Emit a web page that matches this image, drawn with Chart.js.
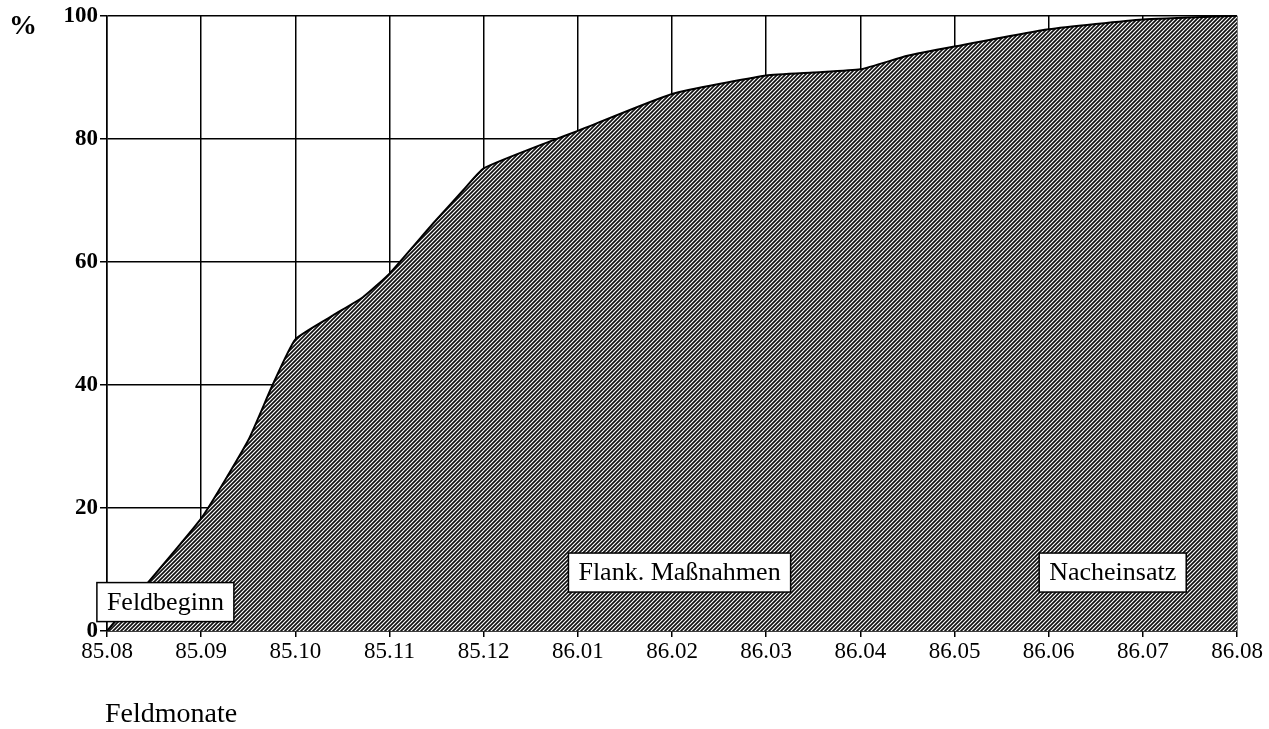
<!DOCTYPE html>
<html>
<head>
<meta charset="utf-8">
<script src="https://cdn.jsdelivr.net/npm/chart.js@4/dist/chart.umd.min.js"></script>
<style>
  html, body { margin: 0; padding: 0; background: #fff; }
  #wrap { width: 1269px; height: 729px; }
</style>
</head>
<body>
<div id="wrap"><canvas id="chart" width="1269" height="729"></canvas></div>
<script>
// month labels on the x axis (index 0..12)
const months = ['85.08', '85.09', '85.10', '85.11', '85.12', '86.01', '86.02',
                '86.03', '86.04', '86.05', '86.06', '86.07', '86.08'];
// position along the month axis and cumulative percent
const monthPos = [0, 1, 1.5, 1.75, 2, 2.4, 2.72, 3, 3.46, 3.78, 4, 4.74, 5, 6, 7, 7.5, 8, 8.5, 9, 10, 11, 12];
const percent  = [0, 18.3, 31, 39.7, 47.4, 51.3, 54.3, 58.1, 66.2, 71.6, 75.2, 79.8, 81.3, 87.3, 90.3, 90.8, 91.3, 93.5, 95.0, 97.8, 99.4, 100];
const yTicks = [0, 20, 40, 60, 80, 100];
// phase labels shown in boxes
const phaseLabels = ['Feldbeginn', 'Flank. Maßnahmen', 'Nacheinsatz'];

const points = monthPos.map((m, i) => ({ x: m, y: percent[i] }));

function makeHatch() {
  const c = document.createElement('canvas');
  c.width = 4; c.height = 4;
  const g = c.getContext('2d');
  g.fillStyle = '#fff';
  g.fillRect(0, 0, 4, 4);
  g.strokeStyle = '#111';
  g.lineWidth = 1.7;
  g.beginPath();
  g.moveTo(-1, 5); g.lineTo(5, -1);
  g.moveTo(-1, 1); g.lineTo(1, -1);
  g.moveTo(3, 5); g.lineTo(5, 3);
  g.stroke();
  return g.createPattern(c, 'repeat');
}

const ctx = document.getElementById('chart').getContext('2d');
const hatch = makeHatch();

const boxPlugin = {
  id: 'boxes',
  afterDatasetsDraw(chart) {
    const c = chart.ctx;
    const xs = chart.scales.x, ys = chart.scales.y;
    const anchors = [[0.62, 4.7], [6.08, 9.5], [10.68, 9.5]];
    c.save();
    c.font = '26px "Liberation Serif", "Times New Roman", serif';
    c.textAlign = 'center';
    c.textBaseline = 'middle';
    phaseLabels.forEach((t, i) => {
      const cx = xs.getPixelForValue(anchors[i][0]);
      const cy = ys.getPixelForValue(anchors[i][1]);
      const w = c.measureText(t).width + 20;
      const h = 39;
      c.fillStyle = '#fff';
      c.fillRect(cx - w / 2, cy - h / 2, w, h);
      c.strokeStyle = '#000';
      c.lineWidth = 1.5;
      c.strokeRect(cx - w / 2, cy - h / 2, w, h);
      c.fillStyle = '#000';
      c.fillText(t, cx, cy + 1);
    });
    // axis captions
    c.textAlign = 'left';
    c.textBaseline = 'alphabetic';
    c.font = 'bold 28px "Liberation Serif", serif';
    c.fillText('%', 9, 34);
    c.font = '28px "Liberation Serif", serif';
    c.fillText('Feldmonate', 105, 722);
    c.restore();
  }
};

new Chart(ctx, {
  type: 'line',
  data: {
    datasets: [{
      data: points,
      borderColor: '#000',
      borderWidth: 2,
      backgroundColor: hatch,
      fill: 'origin',
      pointRadius: 0,
      tension: 0.15
    }]
  },
  options: {
    responsive: false,
    animation: false,
    layout: { padding: { left: 0, top: 15, right: 32, bottom: 0 } },
    plugins: { legend: { display: false }, tooltip: { enabled: false } },
    scales: {
      x: {
        type: 'linear',
        min: 0, max: 12,
        afterFit: s => { s.height = 98; },
        grid: { color: '#000', lineWidth: 1.5, tickLength: 6, tickColor: '#000' },
        border: { color: '#000', width: 1.5 },
        ticks: {
          stepSize: 1,
          color: '#000',
          padding: 1,
          maxRotation: 0,
          font: { family: '"Liberation Serif", serif', size: 23 },
          callback: v => months[v]
        }
      },
      y: {
        min: 0, max: 100,
        afterFit: s => { s.width = 107; },
        afterBuildTicks: s => { s.ticks = yTicks.map(v => ({ value: v })); },
        grid: { color: '#000', lineWidth: 1.5, tickLength: 7, tickColor: '#000' },
        border: { color: '#000', width: 1.5 },
        ticks: {
          color: '#000',
          padding: 2,
          font: { family: '"Liberation Serif", serif', size: 23, weight: 'bold' }
        }
      }
    }
  },
  plugins: [boxPlugin]
});
</script>
</body>
</html>
